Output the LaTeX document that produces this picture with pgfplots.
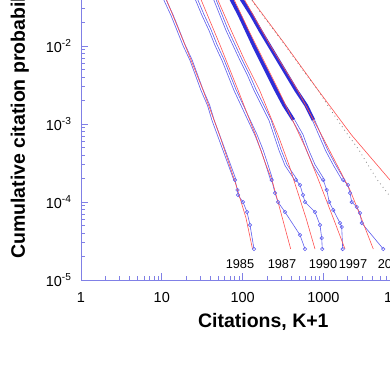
\documentclass[border=0pt]{standalone}
\usepackage{pgfplots}
\pgfplotsset{compat=1.18}
\usepackage{fontspec}
\setmainfont{Liberation Sans}
\definecolor{axblue}{RGB}{128,128,230}
\definecolor{cblue}{RGB}{95,95,238}
\definecolor{cblued}{RGB}{45,45,215}
\definecolor{fitred}{RGB}{255,80,80}
\pgfplotsset{
  tube/.style={draw=cblue, line width=0.75pt, double=white, double distance=1.3pt},
  thickc/.style={draw=cblued, line width=3.6pt},
  tail/.style={draw=cblue, line width=0.6pt, mark=o, mark size=1.8pt, mark options={draw=cblue, line width=0.55pt}},
  fit/.style={draw=fitred, line width=0.6pt},
}
\begin{document}
\begin{tikzpicture}
\path[use as bounding box, clip] (-81pt,-96pt) rectangle (309pt,280pt);
\begin{axis}[
  at={(0pt,0pt)}, anchor=south west,
  scale only axis, width=323.2pt, height=312pt,
  xmode=log, ymode=log,
  xmin=1, xmax=10000, ymin=1e-5, ymax=1e-1,
  axis x line*=bottom, axis y line*=left,
  axis line style={axblue, line width=0.8pt},
  tick style={axblue, line width=0.6pt},
  major tick length=7.5pt, minor tick length=4pt,
  xtick={1,10,100,1000,10000},
  xticklabels={1,10,100,1000,10000},
  minor xtick={2,3,4,5,6,7,8,9,20,30,40,50,60,70,80,90,200,300,400,500,600,700,800,900,2000,3000,4000,5000,6000,7000,8000,9000},
  ytick={1e-5,1e-4,1e-3,1e-2,1e-1},
  yticklabels={10\textsuperscript{-5},10\textsuperscript{-4},10\textsuperscript{-3},10\textsuperscript{-2},10\textsuperscript{-1}},
  minor ytick={2e-5,3e-5,4e-5,5e-5,6e-5,7e-5,8e-5,9e-5,2e-4,3e-4,4e-4,5e-4,6e-4,7e-4,8e-4,9e-4,2e-3,3e-3,4e-3,5e-3,6e-3,7e-3,8e-3,9e-3,2e-2,3e-2,4e-2,5e-2,6e-2,7e-2,8e-2,9e-2},
  tick label style={font=\fontsize{14.5}{16}\selectfont},
  xticklabel style={anchor=base, inner sep=0pt, yshift=-22.3pt},
  yticklabel style={anchor=east, inner sep=0pt, xshift=-9.3pt},
]
% 1985
\addplot[tube] coordinates {(9.915,5.224e-2) (10.96,3.888e-2) (13.37,2.497e-2) (15.87,1.604e-2) (18.82,1.030e-2) (22.98,6.615e-3) (26.88,4.248e-3) (31.44,2.728e-3) (37.84,1.752e-3) (43.02,1.125e-3) (50.32,7.23e-4) (58.87,4.642e-4) (68.85,2.981e-4) (80.53,1.914e-4)};
\addplot[tail] coordinates {(80.53,1.914e-4) (86.47,1.426e-4) (87.70,1.229e-4) (101.1,1.0e-4) (113.4,7.444e-5) (123.5,5.072e-5) (138.4,2.497e-5)};
% 1987
\addplot[tube] coordinates {(24.33,5.224e-2) (27.04,3.888e-2) (32.35,2.497e-2) (39.49,1.604e-2) (46.86,1.030e-2) (57.20,6.615e-3) (67.88,4.248e-3) (80.53,2.728e-3) (98.30,1.752e-3) (120.0,1.125e-3) (146.6,7.23e-4) (173.8,4.642e-4) (200.4,2.981e-4) (229.2,1.914e-4)};
\addplot[tail] coordinates {(229.2,1.914e-4) (251.8,1.304e-4) (274.2,1.0e-4) (334.7,7.444e-5) (513.3,3.775e-5) (591.9,2.497e-5)};
% 1990
\addplot[tube] coordinates {(40.63,5.224e-2) (45.54,3.888e-2) (54.04,2.497e-2) (64.12,1.604e-2) (78.26,1.030e-2) (95.54,6.615e-3) (118.3,4.248e-3) (142.4,2.728e-3) (176.3,1.752e-3) (218.3,1.125e-3) (251.8,7.23e-4) (290.3,4.642e-4) (344.4,2.981e-4) (458.1,1.914e-4)};
\addplot[tail] coordinates {(458.1,1.914e-4) (513.3,1.652e-4) (559.1,1.229e-4) (591.9,1.0e-4) (787.1,7.444e-5) (907.7,5.072e-5) (952.6,3.455e-5) (969.1,2.497e-5)};
% 1997
\addplot[thickc] coordinates {(64.12,5.224e-2) (73.30,3.888e-2) (91.55,2.497e-2) (111.8,1.604e-2) (136.5,1.030e-2) (168.9,6.615e-3) (209.2,4.248e-3) (259.1,2.728e-3) (325.3,1.752e-3) (426.6,1.125e-3)};
\addplot[tube] coordinates {(426.6,1.125e-3) (543.4,7.23e-4) (635.8,4.642e-4) (764.9,2.981e-4) (997.2,1.914e-4)};
\addplot[tail] coordinates {(997.2,1.914e-4) (1098.6,1.426e-4) (1183,1.0e-4) (1326,7.896e-5) (1605,5.380e-5) (1685,4.781e-5) (1733,2.497e-5)};
% 2005
\addplot[thickc] coordinates {(85.25,5.224e-2) (98.30,3.888e-2) (128.9,2.497e-2) (164.2,1.604e-2) (212.2,1.030e-2) (274.2,6.615e-3) (354.4,4.248e-3) (458.1,2.728e-3) (609.1,1.752e-3) (754.1,1.125e-3)};
\addplot[tube] coordinates {(754.1,1.125e-3) (907.7,7.23e-4) (1092,4.642e-4) (1372,2.981e-4) (1763,1.914e-4)};
\addplot[tail] coordinates {(1763,1.914e-4) (2016,1.652e-4) (2134,1.304e-4) (2240,1.0e-4) (2583,8.629e-5) (2838,7.23e-5) (2979,5.380e-5) (5512,2.497e-5)};
% fits
\addplot[fit] coordinates {(10.20,5.224e-2) (19.37,1.030e-2) (32.36,2.728e-3) (51.77,7.23e-4) (79.39,1.914e-4) (110.2,6.236e-5) (132.6,2.497e-5)};
\addplot[fit] coordinates {(27.27,5.224e-2) (52.52,1.030e-2) (87.70,2.728e-3) (144.5,7.23e-4) (194.8,2.981e-4) (231.1,1.914e-4) (298.7,7.23e-5) (393.8,2.497e-5)};
\addplot[fit] coordinates {(43.64,5.224e-2) (71.84,1.604e-2) (105.6,6.615e-3) (161.9,2.728e-3) (274.2,7.23e-4) (375.2,2.981e-4) (471.3,1.426e-4) (609.1,6.236e-5) (787.1,2.497e-5)};
\addplot[fit] coordinates {(68.85,5.224e-2) (118.3,1.604e-2) (181.4,6.615e-3) (278.1,2.728e-3) (414.6,1.125e-3) (617.9,4.642e-4) (869.6,1.914e-4) (1352.8,5.878e-5) (1850,2.497e-5)};
\addplot[fit] coordinates {(90.26,5.224e-2) (218.3,1.030e-2) (478.1,2.728e-3) (947.3,7.23e-4) (2134,1.426e-4) (3004,5.878e-5) (4145,2.497e-5)};
\addplot[fit] coordinates {(105.6,5.224e-2) (339.6,1.030e-2) (857.5,2.728e-3) (2228,7.23e-4) (6672,1.914e-4) (20860,5.072e-5)};
\addplot[gray, line width=0.8pt, dash pattern=on 0.8pt off 3.5pt] coordinates {(105.6,5.224e-2) (176.3,2.497e-2) (334.7,1.030e-2) (617.9,4.248e-3) (857.5,2.728e-3) (1124,1.752e-3) (1495,1.125e-3) (2016,7.23e-4) (2758,4.642e-4) (3564,2.981e-4) (4673,1.914e-4) (6485,1.229e-4) (9129,7.896e-5)};
% year labels
\node[anchor=base, font=\fontsize{12.8}{14}\selectfont] at (axis cs:92.86,1.425e-5) {1985};
\node[anchor=base, font=\fontsize{12.8}{14}\selectfont] at (axis cs:307.3,1.425e-5) {1987};
\node[anchor=base, font=\fontsize{12.8}{14}\selectfont] at (axis cs:988.7,1.425e-5) {1990};
\node[anchor=base, font=\fontsize{12.8}{14}\selectfont] at (axis cs:2325,1.425e-5) {1997};
\node[anchor=base, font=\fontsize{12.8}{14}\selectfont] at (axis cs:7063,1.425e-5) {2005};
\end{axis}
\node[anchor=base, font=\bfseries\fontsize{19.5}{22}\selectfont] at (182.3pt,-47.3pt) {Citations, K+1};
\node[rotate=90, anchor=base west, font=\bfseries\fontsize{19.5}{22}\selectfont] at (-56pt,17.5pt) {Cumulative citation probability};
\end{tikzpicture}
\end{document}
